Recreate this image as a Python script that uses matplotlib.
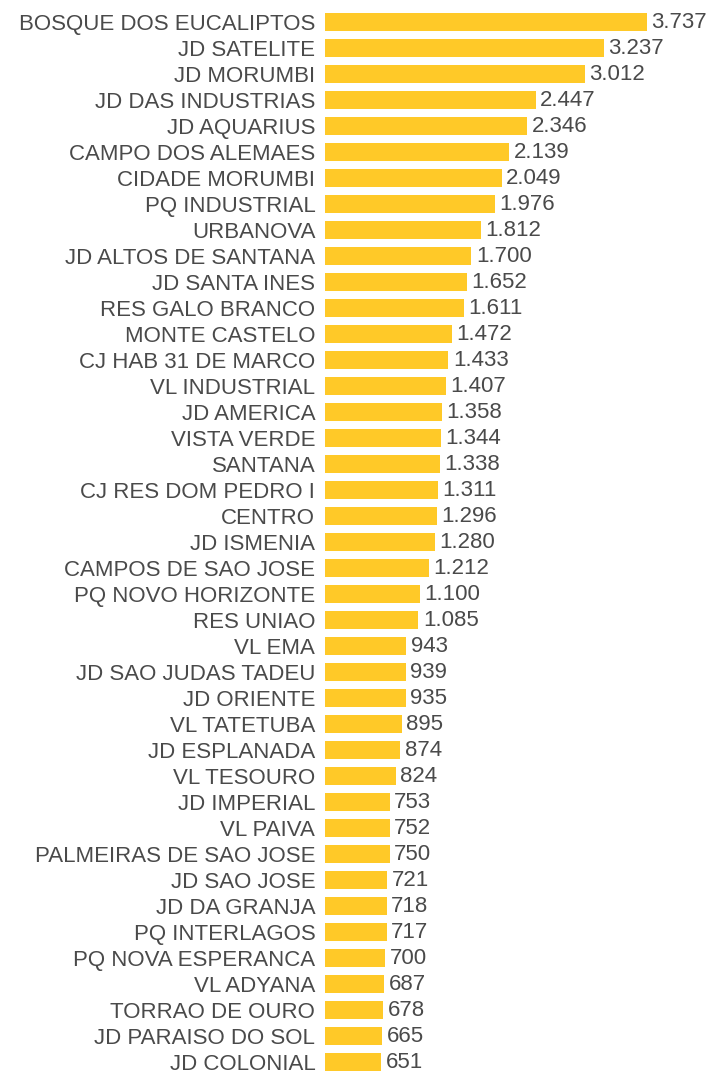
import matplotlib
matplotlib.use("Agg")
import matplotlib.pyplot as plt

bairros = [
    "BOSQUE DOS EUCALIPTOS", "JD SATELITE", "JD MORUMBI", "JD DAS INDUSTRIAS",
    "JD AQUARIUS", "CAMPO DOS ALEMAES", "CIDADE MORUMBI", "PQ INDUSTRIAL",
    "URBANOVA", "JD ALTOS DE SANTANA", "JD SANTA INES", "RES GALO BRANCO",
    "MONTE CASTELO", "CJ HAB 31 DE MARCO", "VL INDUSTRIAL", "JD AMERICA",
    "VISTA VERDE", "SANTANA", "CJ RES DOM PEDRO I", "CENTRO", "JD ISMENIA",
    "CAMPOS DE SAO JOSE", "PQ NOVO HORIZONTE", "RES UNIAO", "VL EMA",
    "JD SAO JUDAS TADEU", "JD ORIENTE", "VL TATETUBA", "JD ESPLANADA",
    "VL TESOURO", "JD IMPERIAL", "VL PAIVA", "PALMEIRAS DE SAO JOSE",
    "JD SAO JOSE", "JD DA GRANJA", "PQ INTERLAGOS", "PQ NOVA ESPERANCA",
    "VL ADYANA", "TORRAO DE OURO", "JD PARAISO DO SOL", "JD COLONIAL",
]
valores = [
    3737, 3237, 3012, 2447, 2346, 2139, 2049, 1976, 1812, 1700, 1652, 1611,
    1472, 1433, 1407, 1358, 1344, 1338, 1311, 1296, 1280, 1212, 1100, 1085,
    943, 939, 935, 895, 874, 824, 753, 752, 750, 721, 718, 717, 700, 687,
    678, 665, 651,
]

BAR_COLOR = "#FFC928"
TEXT_COLOR = "#4a4a4a"


def fmt(v):
    return f"{v:,}".replace(",", ".")


fig = plt.figure(figsize=(7.13, 10.73), dpi=100)
ax = fig.add_axes([325 / 713, 0, 1 - 325 / 713, 1])
pos = list(range(len(bairros)))
ax.barh(pos, valores, height=0.69, color=BAR_COLOR)
ax.set_xlim(0, 388 / (322 / 3737))
ax.set_ylim((1073 - 22) / 26, -22 / 26)

for i, v in enumerate(valores):
    ax.text(v + 50, i, fmt(v), va="center", ha="left",
            fontsize=16, color=TEXT_COLOR, family="Liberation Sans")

ax.set_yticks(pos)
ax.set_yticklabels(bairros, fontsize=16, color=TEXT_COLOR, family="Liberation Sans")
ax.tick_params(axis="y", length=0, pad=7)
ax.set_xticks([])
for s in ax.spines.values():
    s.set_visible(False)

fig.savefig("out.png", dpi=100)
